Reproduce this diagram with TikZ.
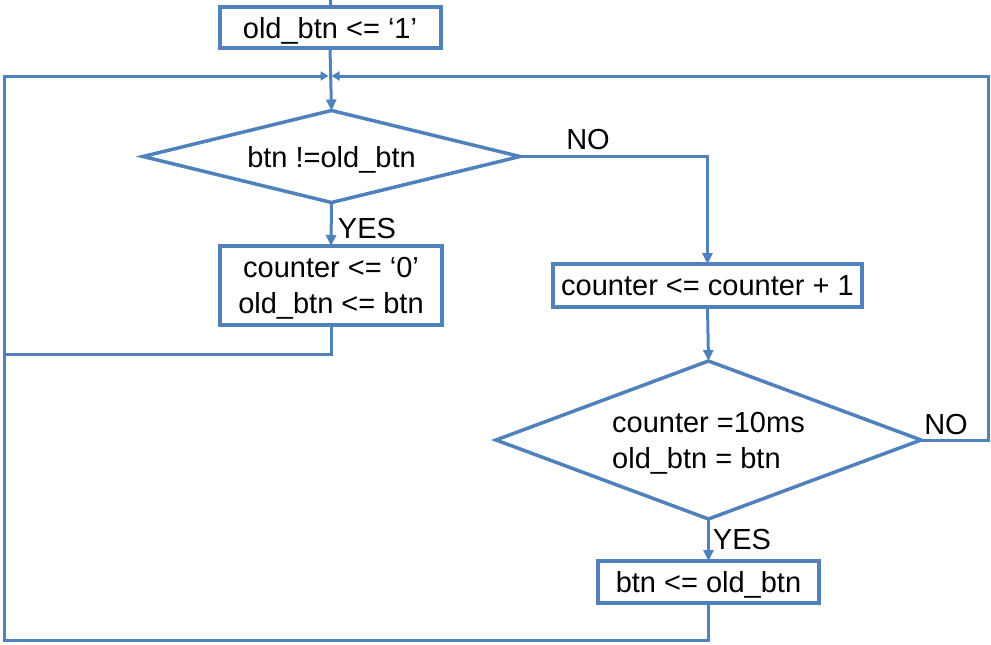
\documentclass[tikz,border=0pt]{standalone}
\usepackage{fontspec}
\setmainfont{Liberation Sans}
\usetikzlibrary{shapes.geometric,arrows.meta}
\definecolor{fc}{HTML}{4F81BD}
\newcommand{\fsz}{\fontsize{29}{36}\selectfont}
\tikzset{
  conn/.style={draw=fc, line width=3pt},
  arr/.style={conn, -{Triangle[length=11pt,width=10pt]}},
  smallarr/.style={conn, -{Triangle[length=8pt,width=9pt]}},
  boxnode/.style={draw=fc, line width=4pt, rectangle, inner sep=0pt, outer sep=0pt, align=center, font=\fsz, text depth=0pt},
  dianode/.style={draw=fc, line width=3.5pt, diamond, inner sep=0pt, outer sep=0pt, font=\fsz, text depth=0pt},
  lbl/.style={font=\fsz, inner sep=0pt}
}
\begin{document}
\begin{tikzpicture}[x=1pt,y=-1pt]
\useasboundingbox (0,0) rectangle (991,645);
\node[boxnode, minimum width=221pt, minimum height=41pt] (b1) at (330,27.5) {old\_btn <= ‘1’};
\node[dianode, minimum width=377pt, minimum height=92pt, aspect=4.1] (d1) at (331.5,156.5) {btn !=old\_btn};
\node[boxnode, minimum width=222pt, minimum height=79pt] (b2) at (331,285.5) {counter <= ‘0’\\old\_btn <= btn};
\node[boxnode, minimum width=309pt, minimum height=43pt] (b3) at (707.5,285.5) {counter <= counter + 1};
\node[dianode, minimum width=425pt, minimum height=158pt, aspect=2.69, align=left] (d2) at (708.5,440) {counter =10ms\\old\_btn = btn};
\node[boxnode, minimum width=221pt, minimum height=42pt] (b4) at (708.5,582) {btn <= old\_btn};

\coordinate (top) at (b1.north |- 0,0);
\coordinate (m) at (b1.south |- 0,76);
\coordinate (lt) at (4,76);
\coordinate (lb) at (4,354);
\coordinate (bl) at (4,640);
\coordinate (rt) at (988,76);

\draw[conn] (top) -- (b1.north);
\draw[arr] (b1.south) -- (d1.north);
\draw[arr] (d1.south) -- (b2.north);
\draw[arr] (d1.east) -| (b3.north);
\draw[arr] (b3.south) -- (d2.north);
\draw[arr] (d2.south) -- (b4.north);
\draw[smallarr, shorten >=1.5pt] (b2.south) |- (lb) -- (lt) -- (m);
\draw[smallarr, shorten >=1.5pt] (d2.east) -| (rt) -- (m);
\draw[conn] (b4.south) |- (bl) -- (lb);

\node[lbl] (no1) at (588,140) {NO};
\node[lbl] (yes1) at (367,229) {YES};
\node[lbl] (no2) at (946,425) {NO};
\node[lbl] (yes2) at (742,540) {YES};
\end{tikzpicture}
\end{document}
